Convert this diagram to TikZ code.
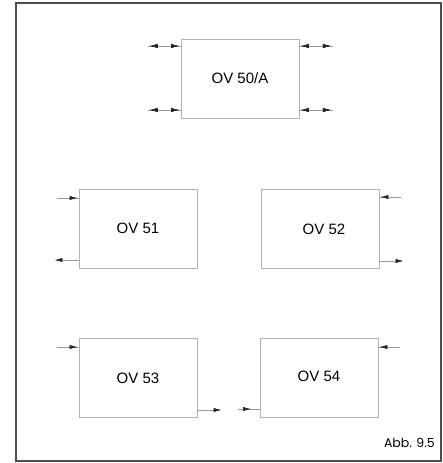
\documentclass[tikz,border=0pt]{standalone}
\usepackage{fontspec}
\setmainfont{Liberation Sans}
\newfontfamily\gothic{Poppins}
\usetikzlibrary{arrows.meta,decorations.markings,calc}
\tikzset{
  ovbox/.style={draw=black!30, line width=0.6pt, minimum width=118pt, minimum height=79pt, inner sep=0pt, font=\fontsize{15}{18}\selectfont},
  conn/.style={draw=black!40, line width=0.6pt},
  tipfwd/.style={postaction={decorate}, decoration={markings, mark=at position #1 with {\arrow[black!85]{Latex[length=8pt,width=4.2pt]}}}},
  tipback/.style={postaction={decorate}, decoration={markings, mark=at position #1 with {\arrow[black!85]{Latex[length=8pt,width=4.2pt,reversed]}}}},
  frame/.style={draw=black!70, line width=1.6pt},
}
\begin{document}
\begin{tikzpicture}[x=1pt,y=-1pt]
\useasboundingbox (0,0) rectangle (443,463);
\draw[frame] (16,3) rectangle (441,461);

\node[ovbox] (b50) at (240,78.5) {OV 50/A};
\node[ovbox] (b51) at (138,228.5) {\raisebox{-3pt}{OV 51}};
\node[ovbox] (b52) at (320,229) {\hspace*{8pt}OV 52};
\node[ovbox] (b53) at (138,378) {OV 53};
\node[ovbox] (b54) at (319,378) {\raisebox{3pt}{OV 54}};

% OV 50/A
\coordinate (p1) at (148,46);
\coordinate (p2) at (148,110);
\coordinate (p3) at (333,46);
\coordinate (p4) at (333,110);
\path[conn, tipback=0.3, tipfwd=0.95] (p1) -- (p1 -| b50.west);
\path[conn, tipback=0.3, tipfwd=0.95] (p2) -- (p2 -| b50.west);
\path[conn, tipback=0.3, tipfwd=0.95] (p3) -- (p3 -| b50.east);
\path[conn, tipback=0.3, tipfwd=0.95] (p4) -- (p4 -| b50.east);

% OV 51
\coordinate (q1) at (57,198);
\coordinate (q2) at (57,260);
\path[conn, tipfwd=0.95] (q1) -- (q1 -| b51.west);
\path[conn, tipback=0.25] (q2) -- (q2 -| b51.west);

% OV 52
\coordinate (r1) at (401,197);
\coordinate (r2) at (401,261);
\path[conn, tipfwd=0.95] (r1) -- (r1 -| b52.east);
\path[conn, tipback=0.25] (r2) -- (r2 -| b52.east);

% OV 53
\coordinate (s1) at (57,347);
\coordinate (s2) at (219,410);
\path[conn, tipfwd=0.95] (s1) -- (s1 -| b53.west);
\path[conn, tipback=0.25] (s2) -- (s2 -| b53.east);

% OV 54
\coordinate (t1) at (400,347);
\coordinate (t2) at (238,409);
\path[conn, tipfwd=0.95] (t1) -- (t1 -| b54.east);
\path[conn, tipfwd=0.6] (t2) -- (t2 -| b54.west);

\node[anchor=east, font=\gothic\fontsize{12.5}{15}\selectfont, inner sep=0pt] (abb) at (435,443) {Abb. 9.5};
\end{tikzpicture}
\end{document}
